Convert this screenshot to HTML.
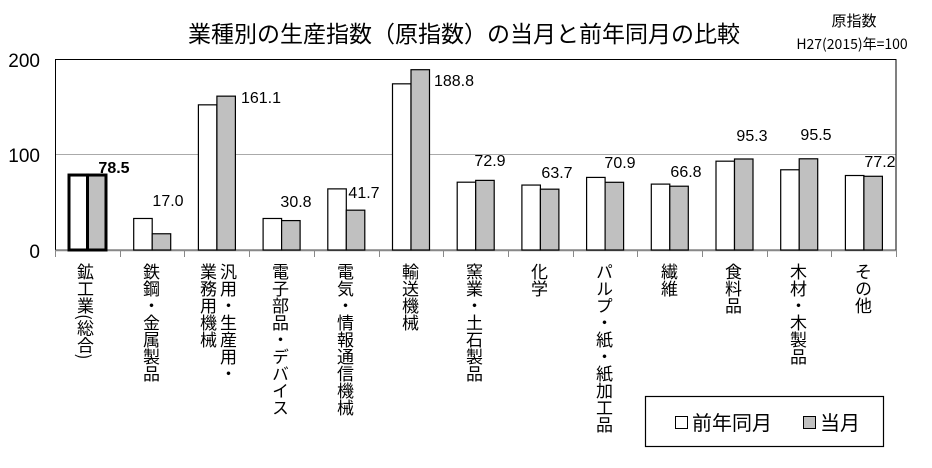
<!DOCTYPE html>
<html><head><meta charset="utf-8"><style>
body{margin:0;background:#fff;}
#c{position:relative;width:932px;height:468px;overflow:hidden;font-family:"Liberation Sans","Noto Sans CJK JP",sans-serif;color:#000;}
.v{position:absolute;top:263px;writing-mode:vertical-rl;font-size:17px;line-height:20px;letter-spacing:0;font-family:"Noto Sans CJK JP",sans-serif;}
</style></head><body><div id="c">
<svg width="932" height="468" style="position:absolute;left:0;top:0" font-family="Liberation Sans, Noto Sans CJK JP, sans-serif">
<text x="464" y="42" font-size="23" text-anchor="middle" font-family="Noto Sans CJK JP, sans-serif">業種別の生産指数（原指数）の当月と前年同月の比較</text>
<text x="854" y="26" font-size="15" text-anchor="middle" font-family="Noto Sans CJK JP, sans-serif">原指数</text>
<text x="852" y="49" font-size="14" text-anchor="middle" font-family="Noto Sans CJK JP, sans-serif">H27(2015)年=100</text>
<line x1="55" y1="154.5" x2="896" y2="154.5" stroke="#aaa" stroke-width="1"/>
<rect x="55.5" y="59.5" width="840.5" height="190.5" fill="none" stroke="#000" stroke-width="1"/>
<line x1="55" y1="250.5" x2="896" y2="250.5" stroke="#888" stroke-width="1.5"/>
<g stroke="#888" stroke-width="1" id="ticks"></g>
<g id="bars"></g>
<text x="40" y="67" font-size="19" text-anchor="end">200</text>
<text x="40" y="162" font-size="19" text-anchor="end">100</text>
<text x="40" y="258" font-size="19" text-anchor="end">0</text>
<g font-size="16" text-anchor="middle">
<text x="114" y="173" font-weight="bold">78.5</text>
<text x="168" y="206">17.0</text>
<text x="261" y="103">161.1</text>
<text x="296" y="207">30.8</text>
<text x="364" y="198">41.7</text>
<text x="454" y="86">188.8</text>
<text x="490" y="166">72.9</text>
<text x="557" y="178">63.7</text>
<text x="620" y="168">70.9</text>
<text x="686" y="177">66.8</text>
<text x="752" y="141">95.3</text>
<text x="816" y="140">95.5</text>
<text x="880" y="167">77.2</text>
</g>
<rect x="645.5" y="396.5" width="238" height="50" fill="#fff" stroke="#000" stroke-width="1.2"/>
<rect x="675.5" y="416.5" width="12" height="12" fill="#fff" stroke="#000"/>
<text x="692" y="430" font-size="20" font-family="Noto Sans CJK JP, sans-serif">前年同月</text>
<rect x="803.5" y="416.5" width="12" height="12" fill="#c0c0c0" stroke="#000"/>
<text x="820" y="430" font-size="20" font-family="Noto Sans CJK JP, sans-serif">当月</text>
</svg>
<div class="v" style="left:75px">鉱工業(総合)</div>
<div class="v" style="left:141px">鉄鋼・金属製品</div>
<div class="v" style="left:196px;width:42px">汎用・生産用・<br>業務用機械</div>
<div class="v" style="left:270px">電子部品・デバイス</div>
<div class="v" style="left:335px">電気・情報通信機械</div>
<div class="v" style="left:400px">輸送機械</div>
<div class="v" style="left:464px">窯業・土石製品</div>
<div class="v" style="left:529px">化学</div>
<div class="v" style="left:594px">パルプ・紙・紙加工品</div>
<div class="v" style="left:659px">繊維</div>
<div class="v" style="left:723px">食料品</div>
<div class="v" style="left:788px">木材・木製品</div>
<div class="v" style="left:853px">その他</div>
</div>
<script>
var prev=[78.5,33,152,33,64,174,71,68,76,69,93,84,78];
var cur=[78.5,17.0,161.1,30.8,41.7,188.8,72.9,63.7,70.9,66.8,95.3,95.5,77.2];
var ns="http://www.w3.org/2000/svg",g=document.getElementById("bars"),t=document.getElementById("ticks");
var w=64.7;
for(var k=0;k<14;k++){var l=document.createElementNS(ns,"line");var x=Math.round(55+w*k)+0.5;l.setAttribute("x1",x);l.setAttribute("x2",x);l.setAttribute("y1",250);l.setAttribute("y2",257);t.appendChild(l);}
for(var i=0;i<13;i++){
 var x0=55+w*i+14;
 [[prev[i],"#fff",x0],[cur[i],"#c0c0c0",x0+18.5]].forEach(function(b){
  var r=document.createElementNS(ns,"rect");var h=b[0]*0.955;
  r.setAttribute("x",b[2]);r.setAttribute("y",250-h);r.setAttribute("width",18.5);r.setAttribute("height",h);
  r.setAttribute("fill",b[1]);r.setAttribute("stroke","#000");r.setAttribute("stroke-width",i==0?3:1.2);g.appendChild(r);
 });
}
</script>
</body></html>
